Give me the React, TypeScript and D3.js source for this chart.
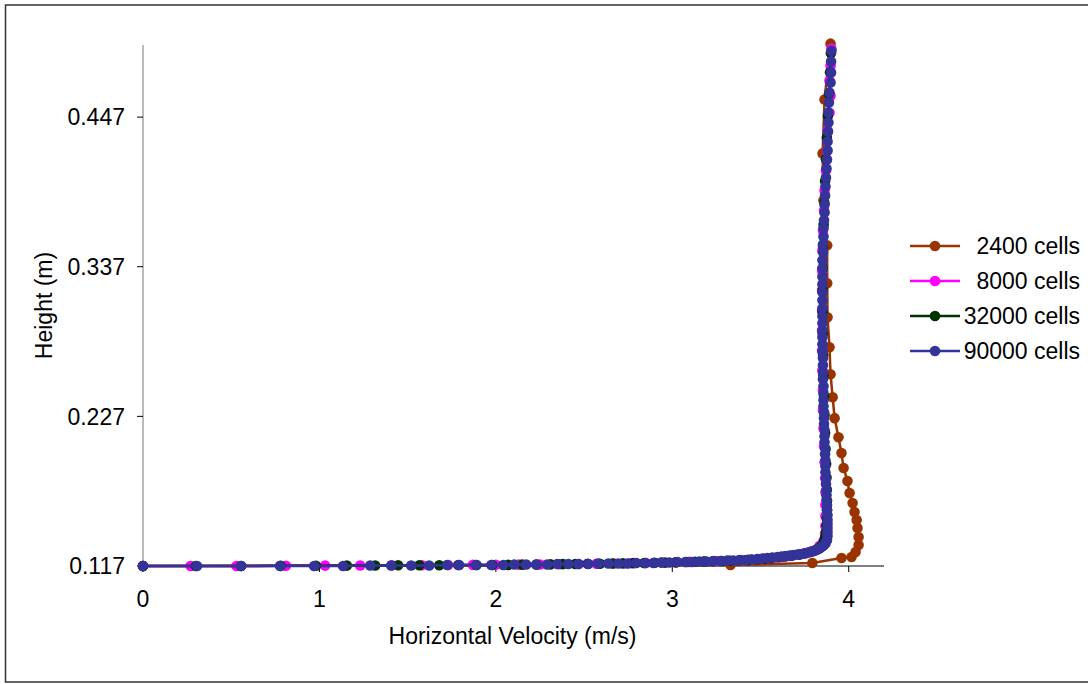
import React from "react";
import * as d3 from "d3";

type P = [number, number];

const seriesNames = ["2400 cells", "8000 cells", "32000 cells", "90000 cells"];
const seriesColors = ["#993300", "#FF00FF", "#003300", "#333399"];
const xTicks = [0, 1, 2, 3, 4];
const yTicks = [0.117, 0.227, 0.337, 0.447];

// [velocity (m/s), height (m)]
const cells2400: P[] = [
  [0, 0.117], [3.33, 0.1177], [3.794, 0.1192], [3.959, 0.1229], [4.016, 0.1236],
  [4.039, 0.1273], [4.056, 0.1324], [4.056, 0.1383], [4.05, 0.1449], [4.045, 0.1508],
  [4.033, 0.1567], [4.022, 0.1633], [4.005, 0.1706], [3.993, 0.1794], [3.971, 0.189],
  [3.959, 0.2], [3.942, 0.2117], [3.92, 0.2257], [3.909, 0.2411], [3.897, 0.258],
  [3.891, 0.2778], [3.88, 0.2998], [3.878, 0.3248], [3.878, 0.3527], [3.857, 0.3858],
  [3.852, 0.4203], [3.863, 0.4599], [3.897, 0.501],
];

const cells8000: P[] = [
  [0, 0.117], [0.27, 0.117], [0.53, 0.117], [0.81, 0.1172], [1.032, 0.1173], [1.231, 0.1174],
  [1.41, 0.1175], [1.58, 0.1176], [1.73, 0.1177], [1.87, 0.1178], [2.0, 0.1179], [2.13, 0.118],
  [2.25, 0.1181], [2.36, 0.1183], [2.47, 0.1185], [2.57, 0.1187], [2.67, 0.1188], [2.76, 0.119],
  [2.85, 0.1192], [2.94, 0.1195], [3.02, 0.1197], [3.1, 0.12], [3.18, 0.1203], [3.25, 0.1206],
  [3.32, 0.1209], [3.39, 0.1213], [3.45, 0.1217], [3.51, 0.1222], [3.57, 0.1229], [3.62, 0.1236],
  [3.67, 0.1244], [3.72, 0.1255], [3.76, 0.1265], [3.79, 0.1276], [3.815, 0.1288], [3.83, 0.13],
  [3.834, 0.1317], [3.857, 0.1354], [3.866, 0.1405], [3.868, 0.1464], [3.868, 0.1537],
  [3.868, 0.1618], [3.868, 0.1713], [3.866, 0.1816], [3.863, 0.1933], [3.86, 0.2051],
  [3.857, 0.2183], [3.854, 0.2315], [3.854, 0.2462], [3.851, 0.2609], [3.849, 0.2755],
  [3.849, 0.2902], [3.849, 0.3049], [3.849, 0.3196], [3.849, 0.3343], [3.851, 0.3489],
  [3.854, 0.3636], [3.86, 0.3783], [3.863, 0.393], [3.871, 0.4077], [3.877, 0.4223],
  [3.88, 0.437], [3.891, 0.4502], [3.897, 0.4627], [3.891, 0.4737], [3.897, 0.4847], [3.902, 0.4972],
];

const cells32000: P[] = [
  [0, 0.117], [0.3, 0.117], [0.556, 0.117], [0.78, 0.1171], [0.98, 0.1172], [1.155, 0.1173],
  [1.316, 0.1174], [1.446, 0.1175], [1.566, 0.1176], [1.679, 0.1176], [1.787, 0.1177],
  [1.89, 0.1177], [1.98, 0.1177], [2.07, 0.1178], [2.15, 0.118], [2.23, 0.1181], [2.31, 0.1182],
  [2.38, 0.1184], [2.45, 0.1185], [2.52, 0.1186], [2.59, 0.1187], [2.66, 0.1188], [2.72, 0.1189],
  [2.78, 0.1191], [2.84, 0.1192], [2.9, 0.1194], [2.96, 0.1195], [3.02, 0.1197], [3.08, 0.1199],
  [3.13, 0.1201], [3.18, 0.1203], [3.23, 0.1205], [3.28, 0.1207], [3.33, 0.1209], [3.38, 0.1212],
  [3.43, 0.1215], [3.48, 0.1219], [3.52, 0.1223], [3.56, 0.1228], [3.6, 0.1234], [3.64, 0.124],
  [3.68, 0.1247], [3.72, 0.1255], [3.75, 0.1263], [3.78, 0.1272], [3.8, 0.128], [3.82, 0.1291],
  [3.835, 0.1305], [3.848, 0.1322], [3.858, 0.1345], [3.866, 0.138], [3.871, 0.142],
  [3.874, 0.147], [3.876, 0.152], [3.877, 0.158], [3.877, 0.165], [3.876, 0.173], [3.874, 0.182],
  [3.872, 0.192], [3.869, 0.203], [3.866, 0.215], [3.863, 0.228], [3.86, 0.242], [3.857, 0.257],
  [3.855, 0.272], [3.853, 0.288], [3.852, 0.304], [3.852, 0.32], [3.853, 0.336], [3.855, 0.352],
  [3.858, 0.368], [3.862, 0.384], [3.866, 0.4], [3.871, 0.416], [3.876, 0.432], [3.882, 0.448],
  [3.888, 0.464], [3.894, 0.48], [3.899, 0.494],
];

const cells90000: P[] = [
  [0, 0.117], [0.306, 0.117], [0.556, 0.117], [0.777, 0.117], [0.97, 0.117], [1.134, 0.117],
  [1.288, 0.1174], [1.407, 0.1174], [1.52, 0.1174], [1.622, 0.1174], [1.724, 0.1177],
  [1.792, 0.1177], [1.889, 0.1177], [1.974, 0.1177], [2.042, 0.1177], [2.104, 0.1181],
  [2.172, 0.1181], [2.229, 0.1181], [2.291, 0.1181], [2.348, 0.1185], [2.411, 0.1185],
  [2.467, 0.1185], [2.524, 0.1185], [2.581, 0.1188], [2.637, 0.1188], [2.694, 0.1188],
  [2.745, 0.1188], [2.796, 0.1192], [2.847, 0.1192], [2.893, 0.1192], [2.938, 0.1196],
  [2.983, 0.1196], [3.029, 0.1199], [3.074, 0.1199], [3.114, 0.1199], [3.154, 0.1203],
  [3.193, 0.1203], [3.233, 0.1207], [3.273, 0.1207], [3.312, 0.121], [3.346, 0.121],
  [3.381, 0.1214], [3.415, 0.1214], [3.449, 0.1218], [3.483, 0.1221], [3.511, 0.1225],
  [3.539, 0.1229], [3.568, 0.1232], [3.596, 0.1236], [3.619, 0.124], [3.641, 0.1243],
  [3.664, 0.1247], [3.687, 0.1251], [3.709, 0.1254], [3.732, 0.1258], [3.755, 0.1265],
  [3.778, 0.1273], [3.8, 0.128], [3.817, 0.1287], [3.834, 0.1298], [3.846, 0.1309],
  [3.857, 0.1321], [3.868, 0.1335], [3.874, 0.1354], [3.877, 0.1361], [3.88, 0.139],
  [3.88, 0.142], [3.88, 0.1449], [3.88, 0.1478], [3.88, 0.1508], [3.88, 0.1544], [3.877, 0.1581],
  [3.877, 0.1618], [3.874, 0.1655], [3.874, 0.1691], [3.874, 0.1728], [3.871, 0.1772],
  [3.871, 0.1816], [3.868, 0.186], [3.868, 0.1904], [3.868, 0.1948], [3.866, 0.1992],
  [3.866, 0.2036], [3.863, 0.208], [3.863, 0.2124], [3.863, 0.2169], [3.86, 0.2213],
  [3.86, 0.2257], [3.86, 0.2301], [3.857, 0.2345], [3.857, 0.2389], [3.857, 0.244],
  [3.857, 0.2492], [3.854, 0.2543], [3.854, 0.2594], [3.854, 0.2646], [3.854, 0.2697],
  [3.851, 0.2749], [3.851, 0.28], [3.851, 0.2851], [3.851, 0.2903], [3.851, 0.2954],
  [3.851, 0.3006], [3.851, 0.3064], [3.851, 0.3123], [3.851, 0.3182], [3.851, 0.3241],
  [3.851, 0.3299], [3.851, 0.3358], [3.851, 0.3417], [3.854, 0.3476], [3.854, 0.3534],
  [3.857, 0.3593], [3.857, 0.3652], [3.86, 0.3711], [3.863, 0.3769], [3.863, 0.3828],
  [3.866, 0.3894], [3.868, 0.396], [3.871, 0.4026], [3.874, 0.4093], [3.877, 0.4159],
  [3.88, 0.4225], [3.88, 0.4291], [3.883, 0.4364], [3.885, 0.443], [3.885, 0.4504],
  [3.888, 0.4577], [3.891, 0.4651], [3.897, 0.4724], [3.9, 0.4797], [3.9, 0.4878], [3.902, 0.4958],
];

const allSeries: P[][] = [cells2400, cells8000, cells32000, cells90000];

const W = 1088;
const H = 684;
const FONT = "'Liberation Sans', Arial, sans-serif";
const FS = 23;

export default function App() {
  const x = d3.scaleLinear().domain([0, 4.2]).range([143, 884]);
  const y = d3.scaleLinear().domain([0.117, 0.5]).range([566, 45]);
  const line = d3
    .line<P>()
    .x((d) => x(d[0]))
    .y((d) => y(d[1]));
  const [x0, x1] = x.range();
  const [y0, y1] = y.range();
  const legendY = d3.scaleLinear().domain([0, 3]).range([246, 351]);

  return (
    <svg
      width={W}
      height={H}
      style={{ position: "absolute", left: 0, top: 0, background: "#fff" }}
      fontFamily={FONT}
    >
      <rect x={5.5} y={5} width={1100} height={677} fill="#fff" stroke="#333" strokeWidth={1.5} />

      {/* axes */}
      <line x1={x0} x2={x0} y1={y1} y2={y0} stroke="#777" strokeWidth={1} />
      <line x1={x0} x2={x1} y1={y0} y2={y0} stroke="#000" strokeWidth={1} />
      {yTicks.map((t) => (
        <g key={"y" + t}>
          <line x1={x0 - 6} x2={x0} y1={y(t)} y2={y(t)} stroke="#000" />
          <text x={x0 - 18} y={y(t)} dy="0.36em" textAnchor="end" fontSize={FS}>
            {d3.format(".3f")(t)}
          </text>
        </g>
      ))}
      {xTicks.map((t) => (
        <g key={"x" + t}>
          <line x1={x(t)} x2={x(t)} y1={y0} y2={y0 + 6} stroke="#000" />
          <text x={x(t)} y={607} textAnchor="middle" fontSize={FS}>
            {t}
          </text>
        </g>
      ))}
      <text x={(x0 + x1) / 2 - 1} y={644} textAnchor="middle" fontSize={FS}>
        Horizontal Velocity (m/s)
      </text>
      <text
        transform={`translate(52, ${(y0 + y1) / 2}) rotate(-90)`}
        textAnchor="middle"
        fontSize={FS}
      >
        Height (m)
      </text>

      {/* series */}
      {allSeries.map((s, i) => (
        <g key={"s" + i}>
          <path d={line(s) || ""} fill="none" stroke={seriesColors[i]} strokeWidth={2.5} />
          {s.map((d, j) => (
            <circle key={j} cx={x(d[0])} cy={y(d[1])} r={5.3} fill={seriesColors[i]} />
          ))}
        </g>
      ))}

      {/* legend */}
      {seriesNames.map((n, i) => (
        <g key={"l" + i}>
          <line x1={910} x2={960} y1={legendY(i)} y2={legendY(i)} stroke={seriesColors[i]} strokeWidth={2.5} />
          <circle cx={935} cy={legendY(i)} r={5.3} fill={seriesColors[i]} />
          <text x={1080} y={legendY(i)} dy="0.36em" textAnchor="end" fontSize={FS}>
            {n}
          </text>
        </g>
      ))}
    </svg>
  );
}
